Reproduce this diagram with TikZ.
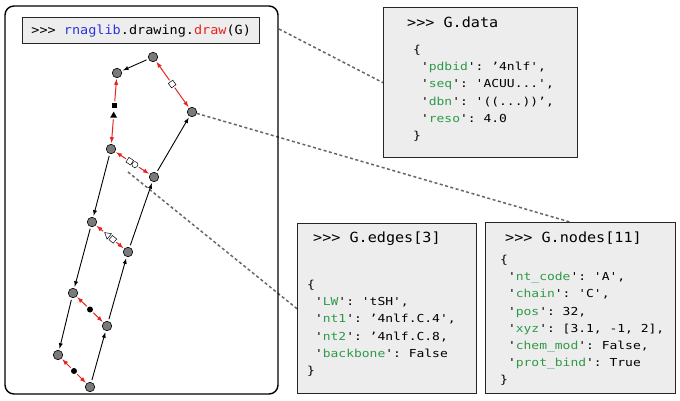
\documentclass[tikz,border=0pt]{standalone}
\usepackage{fontspec}
\usepackage{xcolor}
\usepackage{tikz}
\usetikzlibrary{arrows}
\usetikzlibrary{shapes.geometric}
\usetikzlibrary{backgrounds}
\newfontfamily\titlefont[FakeStretch=1.08]{DejaVu Sans Mono}
\newfontfamily\bodyfont[FakeStretch=1.18]{DejaVu Sans Mono}
\definecolor{pairred}{HTML}{E6231E}
\definecolor{keygreen}{HTML}{2E9A48}
\definecolor{libblue}{HTML}{2B35D8}
\definecolor{boxgray}{HTML}{EDEDED}
\definecolor{ntgray}{HTML}{7A7A7A}
\definecolor{linkgray}{HTML}{666666}
\newcommand\ky[1]{'\textcolor{keygreen}{#1}'}
\frenchspacing

\begin{document}
\begin{tikzpicture}[x=1pt,y=-1pt,
  nt/.style={circle,draw=black,line width=0.6pt,fill=ntgray,minimum size=9.5pt,inner sep=0pt},
  bb/.style={black,line width=0.9pt,-latex,shorten <=2pt,shorten >=1.5pt},
  bp/.style={pairred,line width=1pt,-latex,shorten <=1.5pt,shorten >=1pt},
  hsq/.style={rectangle,draw=black,fill=white,line width=0.5pt,minimum size=5.5pt,inner sep=0pt,sloped},
  fsq/.style={rectangle,fill=black,minimum size=5.5pt,inner sep=0pt},
  hcirc/.style={circle,draw=black,fill=white,line width=0.5pt,minimum size=6pt,inner sep=0pt},
  fcirc/.style={circle,fill=black,minimum size=6pt,inner sep=0pt},
  ftri/.style={regular polygon,regular polygon sides=3,fill=black,minimum size=8pt,inner sep=0pt},
  htri/.style={regular polygon,regular polygon sides=3,draw=black,fill=white,line width=0.5pt,minimum size=8pt,inner sep=0pt,sloped,regular polygon rotate=90},
  infobox/.style={draw=black!85,line width=1.4pt,fill=boxgray,inner sep=0pt,anchor=north west},
  head/.style={font={\titlefont\fontsize{14}{16}\selectfont},inner sep=0pt,anchor=west},
  body/.style={font={\bodyfont\fontsize{11}{17.2}\selectfont},align=left,inner sep=0pt,anchor=north west},
  link/.style={draw=linkgray,line width=1.5pt,dash pattern=on 3pt off 2.5pt}]
\useasboundingbox (0,0) rectangle (680,400);

% drawing panel
\draw[line width=1.4pt,rounded corners=9pt] (5,6) rectangle (278,394);
\node[infobox,minimum width=237pt,minimum height=26pt,font={\titlefont\fontsize{12.5}{14}\selectfont}] (title) at (22,17)
  {>>> \textcolor{libblue}{rnaglib}.drawing.\textcolor{pairred}{draw}(G)};

% nucleotides
\foreach \n/\x/\y in {a/153/57, b/117/73, c/192/112, d/111/149, e/154/177,
                      f/92/222, g/128/252, h/73/293, i/107/326, j/58/355, k/90/387}
  \node[nt] (n\n) at (\x,\y) {};

% backbone
\foreach \s/\t in {a/b, d/f, f/h, h/j, k/i, i/g, g/e, e/c}
  \draw[bb] (n\s) -- (n\t);

% base pairs
\path (na) -- (nc) node[hsq,pos=.49] (pac) {};
\draw[bp] (pac) -- (na); \draw[bp] (pac) -- (nc);
\path (nb) -- (nd) node[fsq,pos=.42] (pbd1) {} node[ftri,pos=.57] (pbd2) {};
\draw[bp] (pbd1) -- (nb); \draw[bp] (pbd2) -- (nd);
\path (nd) -- (ne) node[hsq,pos=.42] (pde1) {} node[hcirc,pos=.57] (pde2) {};
\draw[bp] (pde1) -- (nd); \draw[bp] (pde2) -- (ne);
\path (nf) -- (ng) node[htri,pos=.42] (pfg1) {} node[hsq,pos=.6] (pfg2) {};
\draw[bp] (pfg1) -- (nf); \draw[bp] (pfg2) -- (ng);
\path (nh) -- (ni) node[fcirc,pos=.5] (phi) {};
\draw[bp] (phi) -- (nh); \draw[bp] (phi) -- (ni);
\path (nj) -- (nk) node[fcirc,pos=.5] (pjk) {};
\draw[bp] (pjk) -- (nj); \draw[bp] (pjk) -- (nk);

% info boxes
\node[infobox,minimum width=194pt,minimum height=150pt] (databox) at (383,7) {};
\node[head] (datahead) at (407,22) {>>> G.data};
\node[body] (datatxt) at (413,45) {\{\\
\ \ky{pdbid}: ’4nlf',\\
\ \ky{seq}: 'ACUU...',\\
\ \ky{dbn}: '((...))’,\\
\ \ky{reso}: 4.0\\
\}};

\node[infobox,minimum width=179pt,minimum height=170pt] (edgebox) at (297,223) {};
\node[head] (edgehead) at (313,239) {>>> G.edges[3]};
\node[body] (edgetxt) at (307,280) {\{\\
\ \ky{LW}: 'tSH',\\
\ \ky{nt1}: ’4nlf.C.4',\\
\ \ky{nt2}: ’4nlf.C.8,\\
\ \ky{backbone}: False\\
\}};

\node[infobox,minimum width=190pt,minimum height=171pt] (nodebox) at (485,222) {};
\node[head] (nodehead) at (505,238) {>>> G.nodes[11]};
\node[body] (nodetxt) at (500,255) {\{\\
\ \ky{nt\_code}: 'A',\\
\ \ky{chain}: 'C',\\
\ \ky{pos}: 32,\\
\ \ky{xyz}: [3.1, -1, 2],\\
\ \ky{chem\_mod}: False,\\
\ \ky{prot\_bind}: True\\
\}};

% links to the boxes
\coordinate (titleend) at (279,29);
\coordinate (pairlink) at (128,172);
\coordinate (nodetop) at (570,222);
\begin{scope}[on background layer]
  \draw[link] (titleend) -- (databox.west);
  \draw[link] (nc) -- (nodetop);
  \draw[link] (pairlink) -- (edgebox.west);
\end{scope}
\end{tikzpicture}
\end{document}
